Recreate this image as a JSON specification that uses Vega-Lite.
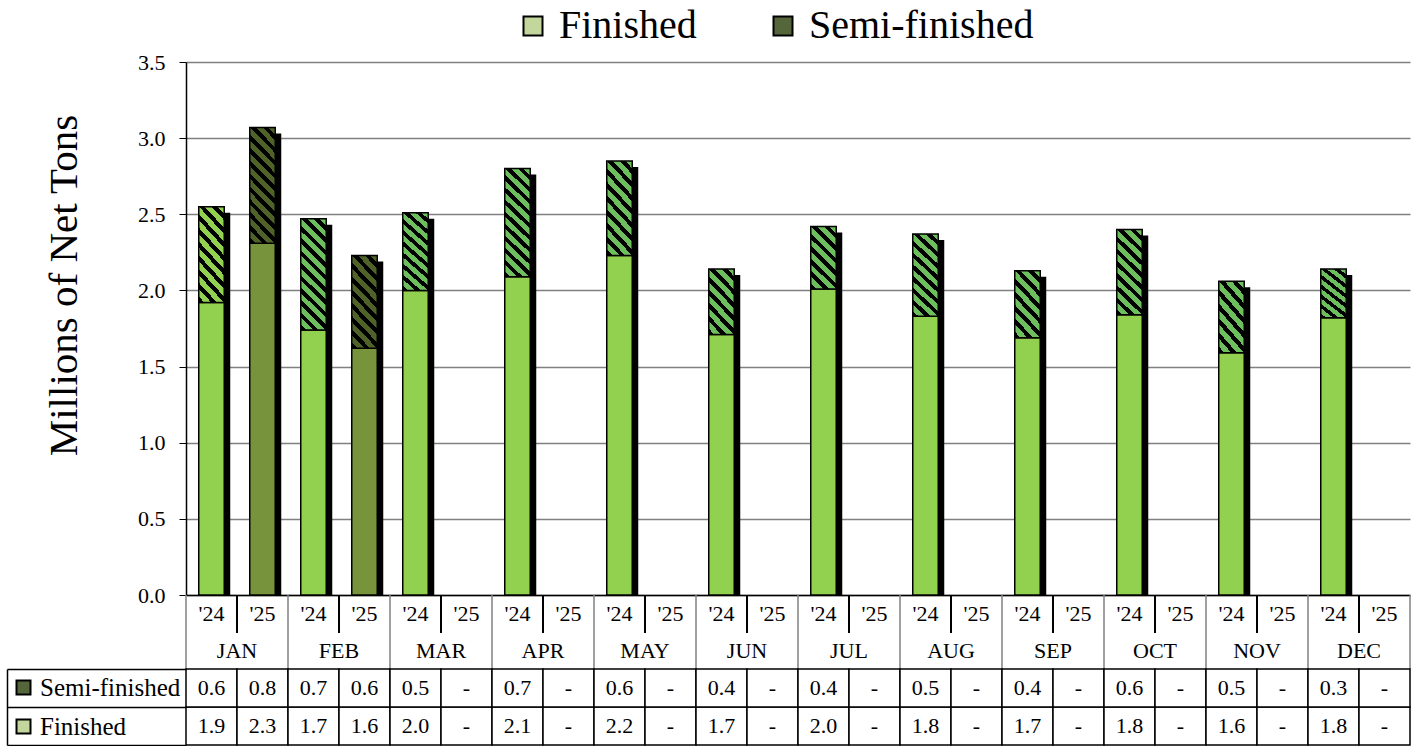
{
  "$schema": "https://vega.github.io/schema/vega-lite/v6.json",
  "background": "white",
  "padding": {"left": 6, "top": 6, "right": 0, "bottom": 0},
  "config": {
    "font": "Liberation Serif",
    "view": {"stroke": null},
    "axis": {"labelColor": "black", "titleColor": "black", "labelFont": "Liberation Serif", "titleFont": "Liberation Serif"},
    "legend": {"labelColor": "black", "labelFont": "Liberation Serif", "labelLimit": 0}
  },
  "datasets": {
    "bars": [
      {"month": "JAN", "year": "'24", "slot": "JAN '24", "type": "Finished", "value": 1.92},
      {"month": "JAN", "year": "'24", "slot": "JAN '24", "type": "Semi-finished", "value": 0.63},
      {"month": "JAN", "year": "'25", "slot": "JAN '25", "type": "Finished", "value": 2.31},
      {"month": "JAN", "year": "'25", "slot": "JAN '25", "type": "Semi-finished", "value": 0.76},
      {"month": "FEB", "year": "'24", "slot": "FEB '24", "type": "Finished", "value": 1.74},
      {"month": "FEB", "year": "'24", "slot": "FEB '24", "type": "Semi-finished", "value": 0.73},
      {"month": "FEB", "year": "'25", "slot": "FEB '25", "type": "Finished", "value": 1.62},
      {"month": "FEB", "year": "'25", "slot": "FEB '25", "type": "Semi-finished", "value": 0.61},
      {"month": "MAR", "year": "'24", "slot": "MAR '24", "type": "Finished", "value": 2.0},
      {"month": "MAR", "year": "'24", "slot": "MAR '24", "type": "Semi-finished", "value": 0.51},
      {"month": "MAR", "year": "'25", "slot": "MAR '25", "type": "Finished", "value": null},
      {"month": "MAR", "year": "'25", "slot": "MAR '25", "type": "Semi-finished", "value": null},
      {"month": "APR", "year": "'24", "slot": "APR '24", "type": "Finished", "value": 2.09},
      {"month": "APR", "year": "'24", "slot": "APR '24", "type": "Semi-finished", "value": 0.71},
      {"month": "APR", "year": "'25", "slot": "APR '25", "type": "Finished", "value": null},
      {"month": "APR", "year": "'25", "slot": "APR '25", "type": "Semi-finished", "value": null},
      {"month": "MAY", "year": "'24", "slot": "MAY '24", "type": "Finished", "value": 2.23},
      {"month": "MAY", "year": "'24", "slot": "MAY '24", "type": "Semi-finished", "value": 0.62},
      {"month": "MAY", "year": "'25", "slot": "MAY '25", "type": "Finished", "value": null},
      {"month": "MAY", "year": "'25", "slot": "MAY '25", "type": "Semi-finished", "value": null},
      {"month": "JUN", "year": "'24", "slot": "JUN '24", "type": "Finished", "value": 1.71},
      {"month": "JUN", "year": "'24", "slot": "JUN '24", "type": "Semi-finished", "value": 0.43},
      {"month": "JUN", "year": "'25", "slot": "JUN '25", "type": "Finished", "value": null},
      {"month": "JUN", "year": "'25", "slot": "JUN '25", "type": "Semi-finished", "value": null},
      {"month": "JUL", "year": "'24", "slot": "JUL '24", "type": "Finished", "value": 2.01},
      {"month": "JUL", "year": "'24", "slot": "JUL '24", "type": "Semi-finished", "value": 0.41},
      {"month": "JUL", "year": "'25", "slot": "JUL '25", "type": "Finished", "value": null},
      {"month": "JUL", "year": "'25", "slot": "JUL '25", "type": "Semi-finished", "value": null},
      {"month": "AUG", "year": "'24", "slot": "AUG '24", "type": "Finished", "value": 1.83},
      {"month": "AUG", "year": "'24", "slot": "AUG '24", "type": "Semi-finished", "value": 0.54},
      {"month": "AUG", "year": "'25", "slot": "AUG '25", "type": "Finished", "value": null},
      {"month": "AUG", "year": "'25", "slot": "AUG '25", "type": "Semi-finished", "value": null},
      {"month": "SEP", "year": "'24", "slot": "SEP '24", "type": "Finished", "value": 1.69},
      {"month": "SEP", "year": "'24", "slot": "SEP '24", "type": "Semi-finished", "value": 0.44},
      {"month": "SEP", "year": "'25", "slot": "SEP '25", "type": "Finished", "value": null},
      {"month": "SEP", "year": "'25", "slot": "SEP '25", "type": "Semi-finished", "value": null},
      {"month": "OCT", "year": "'24", "slot": "OCT '24", "type": "Finished", "value": 1.84},
      {"month": "OCT", "year": "'24", "slot": "OCT '24", "type": "Semi-finished", "value": 0.56},
      {"month": "OCT", "year": "'25", "slot": "OCT '25", "type": "Finished", "value": null},
      {"month": "OCT", "year": "'25", "slot": "OCT '25", "type": "Semi-finished", "value": null},
      {"month": "NOV", "year": "'24", "slot": "NOV '24", "type": "Finished", "value": 1.59},
      {"month": "NOV", "year": "'24", "slot": "NOV '24", "type": "Semi-finished", "value": 0.47},
      {"month": "NOV", "year": "'25", "slot": "NOV '25", "type": "Finished", "value": null},
      {"month": "NOV", "year": "'25", "slot": "NOV '25", "type": "Semi-finished", "value": null},
      {"month": "DEC", "year": "'24", "slot": "DEC '24", "type": "Finished", "value": 1.82},
      {"month": "DEC", "year": "'24", "slot": "DEC '24", "type": "Semi-finished", "value": 0.32},
      {"month": "DEC", "year": "'25", "slot": "DEC '25", "type": "Finished", "value": null},
      {"month": "DEC", "year": "'25", "slot": "DEC '25", "type": "Semi-finished", "value": null}
    ]
  },
  "spacing": 0,
  "bounds": "flush",
  "resolve": {"scale": {"x": "independent", "y": "independent", "fill": "independent"}, "legend": {"fill": "independent"}},
  "vconcat": [
    {
      "width": 1224,
      "height": 533,
      "data": {"name": "bars"},
      "encoding": {
        "x": {
          "field": "slot", "type": "nominal",
          "scale": {"domain": ["JAN '24","JAN '25","FEB '24","FEB '25","MAR '24","MAR '25","APR '24","APR '25","MAY '24","MAY '25","JUN '24","JUN '25","JUL '24","JUL '25","AUG '24","AUG '25","SEP '24","SEP '25","OCT '24","OCT '25","NOV '24","NOV '25","DEC '24","DEC '25"], "paddingInner": 0.5, "paddingOuter": 0.25},
          "axis": {"labels": false, "ticks": false, "title": null, "domainColor": "black", "domainWidth": 1.5}
        }
      },
      "layer": [
        {
          "mark": {"type": "point", "opacity": 0, "filled": true},
          "encoding": {
            "x": {"field": "slot", "type": "nominal"},
            "fill": {
              "field": "type", "type": "nominal",
              "scale": {"domain": ["Finished", "Semi-finished"], "range": ["#c3d69b", "#55663a"]},
              "legend": {
                "orient": "none", "legendX": 327, "legendY": -56, "direction": "horizontal", "title": null,
                "symbolType": "square", "symbolSize": 361, "symbolStrokeColor": "black", "symbolStrokeWidth": 2,
                "labelFontSize": 40, "labelOffset": 6, "columnPadding": 66, "symbolOpacity": 1, "labelLimit": 0,
                "encode": {"symbols": {"update": {
                  "opacity": {"value": 1},
                  "fillOpacity": {"value": 1},
                  "strokeOpacity": {"value": 1},
                  "stroke": {"value": "black"},
                  "strokeWidth": {"value": 2}
                }}}
              }
            }
          }
        },
        {
          "transform": [{"filter": "datum.value != null"}],
          "mark": {"type": "bar", "fill": "black", "xOffset": 6, "yOffset": 6},
          "encoding": {
            "y": {
              "aggregate": "sum", "field": "value", "type": "quantitative",
              "scale": {"domain": [0, 3.5], "nice": false},
              "axis": {
                "values": [0, 0.5, 1, 1.5, 2, 2.5, 3, 3.5], "format": ".1f",
                "grid": true, "gridColor": "#808080", "gridWidth": 1.5,
                "domainColor": "black", "domainWidth": 1.5, "tickColor": "black", "tickSize": 7, "tickWidth": 1,
                "labelFontSize": 22, "labelPadding": 14,
                "title": "Millions of Net Tons", "titleFontSize": 41, "titleFontWeight": "normal", "titlePadding": 52, "titleY": 223
              }
            }
          }
        },
        {
          "mark": {"type": "bar", "stroke": "black", "strokeWidth": 1.5},
          "encoding": {
            "y": {"field": "value", "type": "quantitative", "stack": "zero"},
            "detail": {"field": "type", "type": "nominal"},
            "order": {"field": "type", "sort": "ascending"},
            "fill": {
              "condition": [
                {"test": "datum.type === 'Finished' && datum.year === \"'25\"", "value": "#77933c"},
                {"test": "datum.type === 'Finished'", "value": "#92d050"},
                {"test": "datum.slot === \"JAN '24\"", "value": {"gradient": "linear", "x1": 0, "y1": 1, "x2": 0.3448, "y2": -0.19, "stops": [
                  {"offset": 0, "color": "#000000"}, {"offset": 0.05, "color": "#000000"}, {"offset": 0.05, "color": "#92d050"}, {"offset": 0.1111, "color": "#92d050"},
                  {"offset": 0.1111, "color": "#000000"}, {"offset": 0.1611, "color": "#000000"}, {"offset": 0.1611, "color": "#92d050"}, {"offset": 0.2222, "color": "#92d050"},
                  {"offset": 0.2222, "color": "#000000"}, {"offset": 0.2722, "color": "#000000"}, {"offset": 0.2722, "color": "#92d050"}, {"offset": 0.3333, "color": "#92d050"},
                  {"offset": 0.3333, "color": "#000000"}, {"offset": 0.3833, "color": "#000000"}, {"offset": 0.3833, "color": "#92d050"}, {"offset": 0.4444, "color": "#92d050"},
                  {"offset": 0.4444, "color": "#000000"}, {"offset": 0.4944, "color": "#000000"}, {"offset": 0.4944, "color": "#92d050"}, {"offset": 0.5556, "color": "#92d050"},
                  {"offset": 0.5556, "color": "#000000"}, {"offset": 0.6056, "color": "#000000"}, {"offset": 0.6056, "color": "#92d050"}, {"offset": 0.6667, "color": "#92d050"},
                  {"offset": 0.6667, "color": "#000000"}, {"offset": 0.7167, "color": "#000000"}, {"offset": 0.7167, "color": "#92d050"}, {"offset": 0.7778, "color": "#92d050"},
                  {"offset": 0.7778, "color": "#000000"}, {"offset": 0.8278, "color": "#000000"}, {"offset": 0.8278, "color": "#92d050"}, {"offset": 0.8889, "color": "#92d050"},
                  {"offset": 0.8889, "color": "#000000"}, {"offset": 0.9389, "color": "#000000"}, {"offset": 0.9389, "color": "#92d050"}, {"offset": 1, "color": "#92d050"}]}},
                {"test": "datum.year === \"'25\" && datum.value >= 0.66", "value": {"gradient": "linear", "x1": 0, "y1": 1, "x2": 0.2657, "y2": -0.167, "stops": [
                  {"offset": 0, "color": "#000000"}, {"offset": 0.0409, "color": "#000000"}, {"offset": 0.0409, "color": "#4f6228"}, {"offset": 0.0909, "color": "#4f6228"},
                  {"offset": 0.0909, "color": "#000000"}, {"offset": 0.1318, "color": "#000000"}, {"offset": 0.1318, "color": "#4f6228"}, {"offset": 0.1818, "color": "#4f6228"},
                  {"offset": 0.1818, "color": "#000000"}, {"offset": 0.2227, "color": "#000000"}, {"offset": 0.2227, "color": "#4f6228"}, {"offset": 0.2727, "color": "#4f6228"},
                  {"offset": 0.2727, "color": "#000000"}, {"offset": 0.3136, "color": "#000000"}, {"offset": 0.3136, "color": "#4f6228"}, {"offset": 0.3636, "color": "#4f6228"},
                  {"offset": 0.3636, "color": "#000000"}, {"offset": 0.4045, "color": "#000000"}, {"offset": 0.4045, "color": "#4f6228"}, {"offset": 0.4545, "color": "#4f6228"},
                  {"offset": 0.4545, "color": "#000000"}, {"offset": 0.4955, "color": "#000000"}, {"offset": 0.4955, "color": "#4f6228"}, {"offset": 0.5455, "color": "#4f6228"},
                  {"offset": 0.5455, "color": "#000000"}, {"offset": 0.5864, "color": "#000000"}, {"offset": 0.5864, "color": "#4f6228"}, {"offset": 0.6364, "color": "#4f6228"},
                  {"offset": 0.6364, "color": "#000000"}, {"offset": 0.6773, "color": "#000000"}, {"offset": 0.6773, "color": "#4f6228"}, {"offset": 0.7273, "color": "#4f6228"},
                  {"offset": 0.7273, "color": "#000000"}, {"offset": 0.7682, "color": "#000000"}, {"offset": 0.7682, "color": "#4f6228"}, {"offset": 0.8182, "color": "#4f6228"},
                  {"offset": 0.8182, "color": "#000000"}, {"offset": 0.8591, "color": "#000000"}, {"offset": 0.8591, "color": "#4f6228"}, {"offset": 0.9091, "color": "#4f6228"},
                  {"offset": 0.9091, "color": "#000000"}, {"offset": 0.95, "color": "#000000"}, {"offset": 0.95, "color": "#4f6228"}, {"offset": 1, "color": "#4f6228"}]}},
                {"test": "datum.year === \"'25\"", "value": {"gradient": "linear", "x1": 0, "y1": 1, "x2": 0.3448, "y2": -0.19, "stops": [
                  {"offset": 0, "color": "#000000"}, {"offset": 0.05, "color": "#000000"}, {"offset": 0.05, "color": "#4f6228"}, {"offset": 0.1111, "color": "#4f6228"},
                  {"offset": 0.1111, "color": "#000000"}, {"offset": 0.1611, "color": "#000000"}, {"offset": 0.1611, "color": "#4f6228"}, {"offset": 0.2222, "color": "#4f6228"},
                  {"offset": 0.2222, "color": "#000000"}, {"offset": 0.2722, "color": "#000000"}, {"offset": 0.2722, "color": "#4f6228"}, {"offset": 0.3333, "color": "#4f6228"},
                  {"offset": 0.3333, "color": "#000000"}, {"offset": 0.3833, "color": "#000000"}, {"offset": 0.3833, "color": "#4f6228"}, {"offset": 0.4444, "color": "#4f6228"},
                  {"offset": 0.4444, "color": "#000000"}, {"offset": 0.4944, "color": "#000000"}, {"offset": 0.4944, "color": "#4f6228"}, {"offset": 0.5556, "color": "#4f6228"},
                  {"offset": 0.5556, "color": "#000000"}, {"offset": 0.6056, "color": "#000000"}, {"offset": 0.6056, "color": "#4f6228"}, {"offset": 0.6667, "color": "#4f6228"},
                  {"offset": 0.6667, "color": "#000000"}, {"offset": 0.7167, "color": "#000000"}, {"offset": 0.7167, "color": "#4f6228"}, {"offset": 0.7778, "color": "#4f6228"},
                  {"offset": 0.7778, "color": "#000000"}, {"offset": 0.8278, "color": "#000000"}, {"offset": 0.8278, "color": "#4f6228"}, {"offset": 0.8889, "color": "#4f6228"},
                  {"offset": 0.8889, "color": "#000000"}, {"offset": 0.9389, "color": "#000000"}, {"offset": 0.9389, "color": "#4f6228"}, {"offset": 1, "color": "#4f6228"}]}},
                {"test": "datum.value < 0.5", "value": {"gradient": "linear", "x1": 0, "y1": 1, "x2": 0.4886, "y2": -0.207, "stops": [
                  {"offset": 0, "color": "#000000"}, {"offset": 0.0643, "color": "#000000"}, {"offset": 0.0643, "color": "#6cbf5c"}, {"offset": 0.1429, "color": "#6cbf5c"},
                  {"offset": 0.1429, "color": "#000000"}, {"offset": 0.2071, "color": "#000000"}, {"offset": 0.2071, "color": "#6cbf5c"}, {"offset": 0.2857, "color": "#6cbf5c"},
                  {"offset": 0.2857, "color": "#000000"}, {"offset": 0.35, "color": "#000000"}, {"offset": 0.35, "color": "#6cbf5c"}, {"offset": 0.4286, "color": "#6cbf5c"},
                  {"offset": 0.4286, "color": "#000000"}, {"offset": 0.4929, "color": "#000000"}, {"offset": 0.4929, "color": "#6cbf5c"}, {"offset": 0.5714, "color": "#6cbf5c"},
                  {"offset": 0.5714, "color": "#000000"}, {"offset": 0.6357, "color": "#000000"}, {"offset": 0.6357, "color": "#6cbf5c"}, {"offset": 0.7143, "color": "#6cbf5c"},
                  {"offset": 0.7143, "color": "#000000"}, {"offset": 0.7786, "color": "#000000"}, {"offset": 0.7786, "color": "#6cbf5c"}, {"offset": 0.8571, "color": "#6cbf5c"},
                  {"offset": 0.8571, "color": "#000000"}, {"offset": 0.9214, "color": "#000000"}, {"offset": 0.9214, "color": "#6cbf5c"}, {"offset": 1, "color": "#6cbf5c"}]}},
                {"test": "datum.value < 0.66", "value": {"gradient": "linear", "x1": 0, "y1": 1, "x2": 0.3448, "y2": -0.19, "stops": [
                  {"offset": 0, "color": "#000000"}, {"offset": 0.05, "color": "#000000"}, {"offset": 0.05, "color": "#6cbf5c"}, {"offset": 0.1111, "color": "#6cbf5c"},
                  {"offset": 0.1111, "color": "#000000"}, {"offset": 0.1611, "color": "#000000"}, {"offset": 0.1611, "color": "#6cbf5c"}, {"offset": 0.2222, "color": "#6cbf5c"},
                  {"offset": 0.2222, "color": "#000000"}, {"offset": 0.2722, "color": "#000000"}, {"offset": 0.2722, "color": "#6cbf5c"}, {"offset": 0.3333, "color": "#6cbf5c"},
                  {"offset": 0.3333, "color": "#000000"}, {"offset": 0.3833, "color": "#000000"}, {"offset": 0.3833, "color": "#6cbf5c"}, {"offset": 0.4444, "color": "#6cbf5c"},
                  {"offset": 0.4444, "color": "#000000"}, {"offset": 0.4944, "color": "#000000"}, {"offset": 0.4944, "color": "#6cbf5c"}, {"offset": 0.5556, "color": "#6cbf5c"},
                  {"offset": 0.5556, "color": "#000000"}, {"offset": 0.6056, "color": "#000000"}, {"offset": 0.6056, "color": "#6cbf5c"}, {"offset": 0.6667, "color": "#6cbf5c"},
                  {"offset": 0.6667, "color": "#000000"}, {"offset": 0.7167, "color": "#000000"}, {"offset": 0.7167, "color": "#6cbf5c"}, {"offset": 0.7778, "color": "#6cbf5c"},
                  {"offset": 0.7778, "color": "#000000"}, {"offset": 0.8278, "color": "#000000"}, {"offset": 0.8278, "color": "#6cbf5c"}, {"offset": 0.8889, "color": "#6cbf5c"},
                  {"offset": 0.8889, "color": "#000000"}, {"offset": 0.9389, "color": "#000000"}, {"offset": 0.9389, "color": "#6cbf5c"}, {"offset": 1, "color": "#6cbf5c"}]}}
              ],
              "value": {"gradient": "linear", "x1": 0, "y1": 1, "x2": 0.2657, "y2": -0.167, "stops": [
                {"offset": 0, "color": "#000000"}, {"offset": 0.0409, "color": "#000000"}, {"offset": 0.0409, "color": "#6cbf5c"}, {"offset": 0.0909, "color": "#6cbf5c"},
                {"offset": 0.0909, "color": "#000000"}, {"offset": 0.1318, "color": "#000000"}, {"offset": 0.1318, "color": "#6cbf5c"}, {"offset": 0.1818, "color": "#6cbf5c"},
                {"offset": 0.1818, "color": "#000000"}, {"offset": 0.2227, "color": "#000000"}, {"offset": 0.2227, "color": "#6cbf5c"}, {"offset": 0.2727, "color": "#6cbf5c"},
                {"offset": 0.2727, "color": "#000000"}, {"offset": 0.3136, "color": "#000000"}, {"offset": 0.3136, "color": "#6cbf5c"}, {"offset": 0.3636, "color": "#6cbf5c"},
                {"offset": 0.3636, "color": "#000000"}, {"offset": 0.4045, "color": "#000000"}, {"offset": 0.4045, "color": "#6cbf5c"}, {"offset": 0.4545, "color": "#6cbf5c"},
                {"offset": 0.4545, "color": "#000000"}, {"offset": 0.4955, "color": "#000000"}, {"offset": 0.4955, "color": "#6cbf5c"}, {"offset": 0.5455, "color": "#6cbf5c"},
                {"offset": 0.5455, "color": "#000000"}, {"offset": 0.5864, "color": "#000000"}, {"offset": 0.5864, "color": "#6cbf5c"}, {"offset": 0.6364, "color": "#6cbf5c"},
                {"offset": 0.6364, "color": "#000000"}, {"offset": 0.6773, "color": "#000000"}, {"offset": 0.6773, "color": "#6cbf5c"}, {"offset": 0.7273, "color": "#6cbf5c"},
                {"offset": 0.7273, "color": "#000000"}, {"offset": 0.7682, "color": "#000000"}, {"offset": 0.7682, "color": "#6cbf5c"}, {"offset": 0.8182, "color": "#6cbf5c"},
                {"offset": 0.8182, "color": "#000000"}, {"offset": 0.8591, "color": "#000000"}, {"offset": 0.8591, "color": "#6cbf5c"}, {"offset": 0.9091, "color": "#6cbf5c"},
                {"offset": 0.9091, "color": "#000000"}, {"offset": 0.95, "color": "#000000"}, {"offset": 0.95, "color": "#6cbf5c"}, {"offset": 1, "color": "#6cbf5c"}]}
            }
          }
        }
      ]
    },
    {
      "width": 1224,
      "height": 38,
      "data": {"name": "bars"},
      "transform": [{"filter": "datum.type === 'Finished'"}],
      "encoding": {
        "x": {
          "field": "slot", "type": "nominal",
          "scale": {"domain": ["JAN '24","JAN '25","FEB '24","FEB '25","MAR '24","MAR '25","APR '24","APR '25","MAY '24","MAY '25","JUN '24","JUN '25","JUL '24","JUL '25","AUG '24","AUG '25","SEP '24","SEP '25","OCT '24","OCT '25","NOV '24","NOV '25","DEC '24","DEC '25"], "paddingInner": 0, "paddingOuter": 0},
          "axis": null
        }
      },
      "layer": [
        {
          "transform": [{"filter": "datum.year === \"'24\""}],
          "mark": {"type": "rule", "color": "#808080", "strokeWidth": 1.5},
          "encoding": {"x": {"field": "slot", "type": "nominal", "bandPosition": 0}}
        },
        {
          "transform": [{"filter": "datum.slot === \"DEC '25\""}],
          "mark": {"type": "rule", "color": "#808080", "strokeWidth": 1.5},
          "encoding": {"x": {"field": "slot", "type": "nominal", "bandPosition": 1}}
        },
        {
          "transform": [{"filter": "datum.year === \"'25\""}],
          "mark": {"type": "rule", "color": "black", "strokeWidth": 2},
          "encoding": {"x": {"field": "slot", "type": "nominal", "bandPosition": 0}}
        },
        {
          "mark": {"type": "text", "fontSize": 22, "baseline": "middle", "color": "black"},
          "encoding": {"x": {"field": "slot", "type": "nominal"}, "text": {"field": "year", "type": "nominal"}}
        }
      ]
    },
    {
      "width": 1224,
      "height": 36,
      "data": {"name": "bars"},
      "transform": [{"filter": "datum.type === 'Finished' && datum.year === \"'24\""}],
      "encoding": {
        "x": {
          "field": "month", "type": "nominal",
          "scale": {"domain": ["JAN","FEB","MAR","APR","MAY","JUN","JUL","AUG","SEP","OCT","NOV","DEC"], "paddingInner": 0, "paddingOuter": 0},
          "axis": null
        }
      },
      "layer": [
        {
          "mark": {"type": "rule", "color": "#808080", "strokeWidth": 1.5},
          "encoding": {"x": {"field": "month", "type": "nominal", "bandPosition": 0}}
        },
        {
          "transform": [{"filter": "datum.month === 'DEC'"}],
          "mark": {"type": "rule", "color": "#808080", "strokeWidth": 1.5},
          "encoding": {"x": {"field": "month", "type": "nominal", "bandPosition": 1}}
        },
        {
          "mark": {"type": "text", "fontSize": 22, "baseline": "middle", "color": "black"},
          "encoding": {"x": {"field": "month", "type": "nominal"}, "text": {"field": "month", "type": "nominal"}}
        }
      ]
    },
    {
      "width": 1224,
      "height": 76,
      "data": {"name": "bars"},
      "encoding": {
        "x": {
          "field": "slot", "type": "nominal",
          "scale": {"domain": ["JAN '24","JAN '25","FEB '24","FEB '25","MAR '24","MAR '25","APR '24","APR '25","MAY '24","MAY '25","JUN '24","JUN '25","JUL '24","JUL '25","AUG '24","AUG '25","SEP '24","SEP '25","OCT '24","OCT '25","NOV '24","NOV '25","DEC '24","DEC '25"], "paddingInner": 0, "paddingOuter": 0},
          "axis": null
        },
        "y": {
          "field": "type", "type": "nominal",
          "scale": {"domain": ["Semi-finished", "Finished"], "paddingInner": 0, "paddingOuter": 0},
          "axis": {"orient": "left", "offset": 179, "tickBand": "extent", "tickSize": -179, "tickColor": "black", "tickWidth": 1.5, "domainColor": "black", "domainWidth": 1.5, "labels": false, "title": null, "grid": false}
        }
      },
      "layer": [
        {
          "mark": {"type": "rect", "fill": "white", "stroke": "black", "strokeWidth": 1.5}
        },
        {
          "mark": {"type": "text", "fontSize": 22, "baseline": "middle", "color": "black"},
          "encoding": {
            "text": {"condition": {"test": "datum.value == null", "value": "-"}, "field": "value", "type": "quantitative", "format": ".1f"}
          }
        },
        {
          "mark": {"type": "point", "opacity": 0, "filled": true},
          "encoding": {
            "fill": {
              "field": "type", "type": "nominal",
              "scale": {"domain": ["Semi-finished", "Finished"], "range": ["#55663a", "#c3d69b"]},
              "legend": {
                "orient": "none", "legendX": -175, "legendY": 6, "direction": "vertical", "title": null,
                "symbolType": "square", "symbolSize": 196, "symbolStrokeColor": "black", "symbolStrokeWidth": 2,
                "labelFontSize": 25, "labelOffset": 4, "rowPadding": 13, "symbolOpacity": 1, "labelLimit": 0,
                "encode": {"symbols": {"update": {
                  "opacity": {"value": 1},
                  "fillOpacity": {"value": 1},
                  "strokeOpacity": {"value": 1},
                  "stroke": {"value": "black"},
                  "strokeWidth": {"value": 2}
                }}}
              }
            }
          }
        }
      ]
    }
  ]
}
